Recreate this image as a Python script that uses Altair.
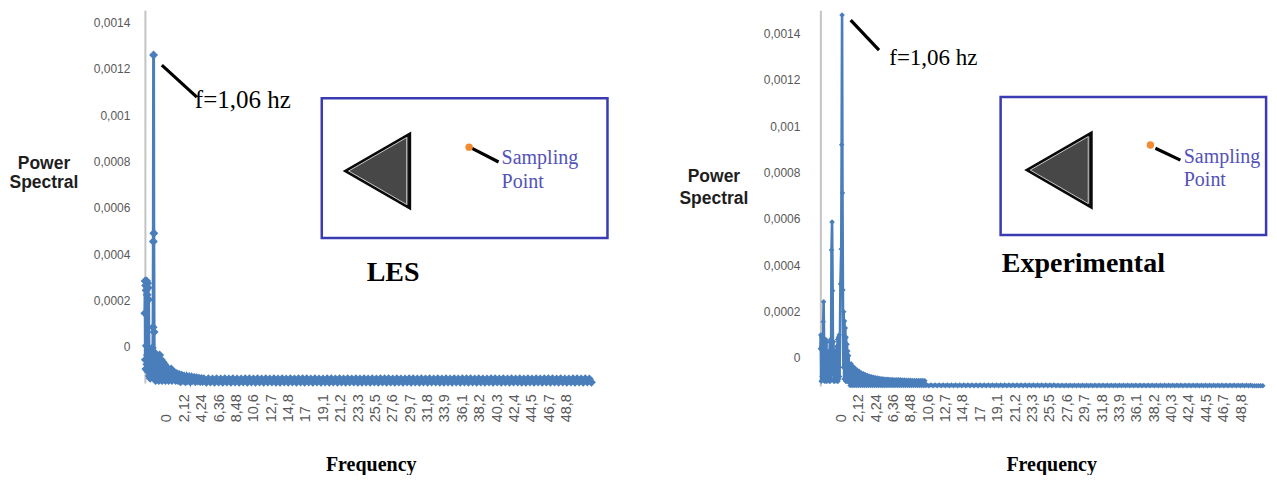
import json
import altair as alt
import pandas as pd

# ---------------- data ----------------
# LES spectrum (frequency in Hz, power spectral density)
les_freq = [
    0.00, 0.03, 0.06, 0.09, 0.12, 0.15, 0.18, 0.21, 0.24, 0.27, 0.30, 0.33, 0.36, 0.39, 0.42, 0.45,
    0.50, 0.55, 0.60, 0.65, 0.70, 0.75, 0.80, 0.85, 0.90, 0.95,
    1.00, 1.03, 1.06, 1.09, 1.12, 1.16,
    1.20, 1.30, 1.40, 1.50, 1.60, 1.70, 1.80, 1.90, 2.00, 2.10, 2.20, 2.30,
    2.40, 2.50, 2.60, 2.70, 2.80, 2.90, 3.00, 3.10, 3.20, 3.30, 3.40, 3.50,
    3.60, 3.75, 3.90, 4.05, 4.20, 4.35, 4.50, 4.65, 4.80, 4.95, 5.10, 5.25, 5.40,
    5.55, 5.70, 5.85, 6.00, 6.15, 6.30, 6.45, 6.60, 6.75, 6.90, 7.05, 7.20,
    7.5, 7.75, 8.0, 8.25, 8.5, 8.75, 9.0, 9.25,
    9.5, 9.75, 10.0, 10.25, 10.5, 10.75, 11.0, 11.25,
    11.5, 11.75, 12.0, 12.25, 12.5, 12.75, 13.0, 13.25,
    13.5, 13.75, 14.0, 14.25, 14.5, 14.75, 15.0, 15.25,
    15.5, 15.75, 16.0, 16.25, 16.5, 16.75, 17.0, 17.25,
    17.5, 17.75, 18.0, 18.25, 18.5, 18.75, 19.0, 19.25,
    19.5, 19.75, 20.0, 20.25, 20.5, 20.75, 21.0, 21.25,
    21.5, 21.75, 22.0, 22.25, 22.5, 22.75, 23.0, 23.25,
    23.5, 23.75, 24.0, 24.25, 24.5, 24.75, 25.0, 25.25,
    25.5, 25.75, 26.0, 26.25, 26.5, 26.75, 27.0, 27.25,
    27.5, 27.75, 28.0, 28.25, 28.5, 28.75, 29.0, 29.25,
    29.5, 29.75, 30.0, 30.25, 30.5, 30.75, 31.0, 31.25,
    31.5, 31.75, 32.0, 32.25, 32.5, 32.75, 33.0, 33.25,
    33.5, 33.75, 34.0, 34.25, 34.5, 34.75, 35.0, 35.25,
    35.5, 35.75, 36.0, 36.25, 36.5, 36.75, 37.0, 37.25,
    37.5, 37.75, 38.0, 38.25, 38.5, 38.75, 39.0, 39.25,
    39.5, 39.75, 40.0, 40.25, 40.5, 40.75, 41.0, 41.25,
    41.5, 41.75, 42.0, 42.25, 42.5, 42.75, 43.0, 43.25,
    43.5, 43.75, 44.0, 44.25, 44.5, 44.75, 45.0, 45.25,
    45.5, 45.75, 46.0, 46.25, 46.5, 46.75, 47.0, 47.25,
    47.5, 47.75, 48.0, 48.25, 48.5, 48.75, 49.0, 49.25,
    49.5, 49.75, 50.0, 50.25, 50.5, 50.75, 51.0, 51.25,
    51.5, 51.75, 52.0, 52.25, 52.5, 52.75, 53.0, 53.25,
    53.5, 53.75, 54.0, 54.25, 54.5,
]
les_power = [
    3.0e-4, 4.4e-4, 1.0e-4, 4.2e-4, 0.6e-4, 4.0e-4, 1.6e-4, 4.4e-4, 0.8e-4, 3.8e-4, 1.2e-4, 4.3e-4,
    0.5e-4, 4.1e-4, 1.4e-4, 3.6e-4,
    1.2e-4, 0.3e-4, 1.4e-4, 0.2e-4, 1.1e-4, 0.4e-4, 1.3e-4, 0.3e-4, 1.5e-4, 0.5e-4,
    2.4e-4, 6.1e-4, 14.14e-4, 6.45e-4, 2.2e-4, 0.4e-4,
    1.3e-4, 0.1e-4, 1.2e-4, 0.2e-4, 1.1e-4, 0.1e-4, 1.2e-4, 0.2e-4, 1.0e-4, 0.1e-4, 0.9e-4, 0.2e-4,
    0.8e-4, 0.1e-4, 0.7e-4, 0.2e-4, 0.6e-4, 0.1e-4, 0.55e-4, 0.2e-4, 0.6e-4, 0.1e-4, 0.5e-4, 0.2e-4,
    0.45e-4, 0.1e-4, 0.4e-4, 0.1e-4, 0.36e-4, 0.05e-4, 0.33e-4, 0.1e-4, 0.3e-4, 0.05e-4, 0.28e-4,
    0.1e-4, 0.26e-4, 0.05e-4, 0.25e-4, 0.1e-4, 0.23e-4, 0.06e-4, 0.22e-4, 0.08e-4, 0.2e-4,
    0.06e-4, 0.19e-4, 0.06e-4, 0.18e-4,
    3e-6, 1.8e-5, 4e-6, 1.7e-5, 3e-6, 1.8e-5, 4e-6, 1.7e-5,
    3e-6, 1.8e-5, 4e-6, 1.7e-5, 3e-6, 1.8e-5, 4e-6, 1.7e-5,
    3e-6, 1.7e-5, 4e-6, 1.8e-5, 3e-6, 1.8e-5, 4e-6, 1.7e-5,
    3e-6, 1.8e-5, 4e-6, 1.7e-5, 3e-6, 1.8e-5, 4e-6, 1.7e-5,
    4e-6, 1.8e-5, 3e-6, 1.7e-5, 3e-6, 1.8e-5, 4e-6, 1.7e-5,
    3e-6, 1.8e-5, 4e-6, 1.7e-5, 3e-6, 1.8e-5, 4e-6, 1.8e-5,
    3e-6, 1.8e-5, 4e-6, 1.7e-5, 3e-6, 1.8e-5, 4e-6, 1.7e-5,
    3e-6, 1.7e-5, 4e-6, 1.8e-5, 3e-6, 1.8e-5, 4e-6, 1.7e-5,
    3e-6, 1.8e-5, 4e-6, 1.7e-5, 3e-6, 1.8e-5, 4e-6, 1.7e-5,
    4e-6, 1.8e-5, 3e-6, 1.7e-5, 3e-6, 1.8e-5, 4e-6, 1.7e-5,
    3e-6, 1.8e-5, 4e-6, 1.7e-5, 3e-6, 1.8e-5, 4e-6, 1.8e-5,
    3e-6, 1.8e-5, 4e-6, 1.7e-5, 3e-6, 1.8e-5, 4e-6, 1.7e-5,
    3e-6, 1.7e-5, 4e-6, 1.8e-5, 3e-6, 1.8e-5, 4e-6, 1.7e-5,
    3e-6, 1.8e-5, 4e-6, 1.7e-5, 3e-6, 1.8e-5, 4e-6, 1.7e-5,
    4e-6, 1.8e-5, 3e-6, 1.7e-5, 3e-6, 1.8e-5, 4e-6, 1.7e-5,
    3e-6, 1.8e-5, 4e-6, 1.7e-5, 3e-6, 1.8e-5, 4e-6, 1.8e-5,
    3e-6, 1.8e-5, 4e-6, 1.7e-5, 3e-6, 1.8e-5, 4e-6, 1.7e-5,
    3e-6, 1.7e-5, 4e-6, 1.8e-5, 3e-6, 1.8e-5, 4e-6, 1.7e-5,
    3e-6, 1.8e-5, 4e-6, 1.7e-5, 3e-6, 1.8e-5, 4e-6, 1.7e-5,
    4e-6, 1.8e-5, 3e-6, 1.7e-5, 3e-6, 1.8e-5, 4e-6, 1.7e-5,
    3e-6, 1.8e-5, 4e-6, 1.7e-5, 3e-6, 1.8e-5, 4e-6, 1.8e-5,
    3e-6, 1.8e-5, 4e-6, 1.7e-5, 3e-6, 1.8e-5, 4e-6, 1.7e-5,
    3e-6, 1.7e-5, 4e-6, 1.8e-5, 3e-6, 1.8e-5, 4e-6, 1.7e-5,
    3e-6, 1.8e-5, 4e-6, 1.7e-5, 3e-6,
]

# Experimental spectrum
exp_freq = [
    0.00, 0.05, 0.10, 0.15, 0.20, 0.25, 0.30, 0.35, 0.40, 0.45, 0.50, 0.55, 0.60,
    0.65, 0.70, 0.75, 0.80, 0.85, 0.90, 0.95, 1.00, 1.05, 1.10, 1.15, 1.20, 1.25, 1.30,
    1.36, 1.43, 1.50,
    1.55, 1.60, 1.65, 1.70, 1.75, 1.80, 1.85, 1.90, 1.95, 2.00, 2.05, 2.10, 2.15,
    2.20, 2.25, 2.30, 2.35,
    2.45, 2.55, 2.60, 2.65, 2.70, 2.75, 2.80,
    2.85, 2.90, 2.95, 3.00, 3.05, 3.10, 3.15, 3.20, 3.25, 3.30, 3.35, 3.40, 3.45, 3.50,
    3.625, 3.75, 3.875, 4.0, 4.125, 4.25, 4.375, 4.5, 4.625, 4.75, 4.875, 5.0,
    5.125, 5.25, 5.375, 5.5, 5.625, 5.75, 5.875, 6.0, 6.125, 6.25, 6.375, 6.5,
    6.625, 6.75, 6.875, 7.0, 7.125, 7.25, 7.375, 7.5, 7.625, 7.75, 7.875, 8.0,
    8.125, 8.25, 8.375, 8.5, 8.625, 8.75, 8.875, 9.0, 9.125, 9.25, 9.375, 9.5,
    9.625, 9.75, 9.875, 10.0, 10.125, 10.25, 10.375, 10.5, 10.625, 10.75, 10.875, 11.0,
    11.125, 11.25, 11.375, 11.5, 11.625, 11.75, 11.875, 12.0, 12.125, 12.25, 12.375, 12.5,
    12.625, 12.75, 12.875,
    13.0, 13.25, 13.5, 13.75, 14.0, 14.25, 14.5, 14.75,
    15.0, 15.25, 15.5, 15.75, 16.0, 16.25, 16.5, 16.75,
    17.0, 17.25, 17.5, 17.75, 18.0, 18.25, 18.5, 18.75,
    19.0, 19.25, 19.5, 19.75, 20.0, 20.25, 20.5, 20.75,
    21.0, 21.25, 21.5, 21.75, 22.0, 22.25, 22.5, 22.75,
    23.0, 23.25, 23.5, 23.75, 24.0, 24.25, 24.5, 24.75,
    25.0, 25.25, 25.5, 25.75, 26.0, 26.25, 26.5, 26.75,
    27.0, 27.25, 27.5, 27.75, 28.0, 28.25, 28.5, 28.75,
    29.0, 29.25, 29.5, 29.75, 30.0, 30.25, 30.5, 30.75,
    31.0, 31.25, 31.5, 31.75, 32.0, 32.25, 32.5, 32.75,
    33.0, 33.25, 33.5, 33.75, 34.0, 34.25, 34.5, 34.75,
    35.0, 35.25, 35.5, 35.75, 36.0, 36.25, 36.5, 36.75,
    37.0, 37.25, 37.5, 37.75, 38.0, 38.25, 38.5, 38.75,
    39.0, 39.25, 39.5, 39.75, 40.0, 40.25, 40.5, 40.75,
    41.0, 41.25, 41.5, 41.75, 42.0, 42.25, 42.5, 42.75,
    43.0, 43.25, 43.5, 43.75, 44.0, 44.25, 44.5, 44.75,
    45.0, 45.25, 45.5, 45.75, 46.0, 46.25, 46.5, 46.75,
    47.0, 47.25, 47.5, 47.75, 48.0, 48.25, 48.5, 48.75,
    49.0, 49.25, 49.5, 49.75, 50.0, 50.25, 50.5, 50.75,
    51.0, 51.25, 51.5, 51.75, 52.0, 52.25, 52.5, 52.75,
    53.0, 53.25, 53.5, 53.75, 54.0,
]
exp_power = [
    1.6e-4, 2.2e-4, 0.2e-4, 2.1e-4, 0.4e-4, 2.2e-4, 0.3e-4, 2.77e-4, 3.63e-4, 2.0e-4, 0.2e-4, 2.0e-4, 0.3e-4,
    2.0e-4, 0.2e-4, 1.9e-4, 0.2e-4, 1.4e-4, 0.3e-4, 1.4e-4, 0.3e-4, 1.5e-4, 0.2e-4, 1.9e-4, 0.2e-4, 2.0e-4, 0.3e-4,
    5.86e-4, 7.07e-4, 4.1e-4,
    0.5e-4, 1.9e-4, 0.2e-4, 1.5e-4, 0.2e-4, 1.5e-4, 0.3e-4, 1.5e-4, 0.3e-4, 1.7e-4, 0.2e-4, 2.0e-4, 0.2e-4,
    2.1e-4, 0.3e-4, 2.2e-4, 0.4e-4,
    4.4e-4, 5.9e-4, 10.4e-4, 16.0e-4, 8.32e-4, 4.14e-4, 0.8e-4,
    3.2e-4, 0.3e-4, 2.8e-4, 0.3e-4, 2.5e-4, 0.2e-4, 2.1e-4, 0.2e-4, 1.8e-4, 0.2e-4, 1.5e-4, 0.2e-4, 1.3e-4, 0.2e-4,
    2e-6, 9.6e-5, 2e-6, 8.4e-5, 2e-6, 7.5e-5, 2e-6, 6.8e-5, 2e-6, 6.2e-5, 2e-6, 5.6e-5,
    2e-6, 5.2e-5, 2e-6, 4.8e-5, 2e-6, 4.5e-5, 2e-6, 4.2e-5, 2e-6, 3.9e-5, 2e-6, 3.7e-5,
    2e-6, 3.5e-5, 2e-6, 3.4e-5, 2e-6, 3.2e-5, 2e-6, 3.1e-5, 2e-6, 3.0e-5, 2e-6, 2.9e-5,
    2e-6, 2.9e-5, 2e-6, 2.8e-5, 2e-6, 2.8e-5, 2e-6, 2.7e-5, 2e-6, 2.7e-5, 2e-6, 2.6e-5,
    2e-6, 2.6e-5, 2e-6, 2.5e-5, 2e-6, 2.5e-5, 2e-6, 2.4e-5, 2e-6, 2.4e-5, 2e-6, 2.4e-5,
    2e-6, 2.3e-5, 2e-6, 2.3e-5, 2e-6, 2.3e-5, 2e-6, 2.3e-5, 2e-6, 2.3e-5, 2e-6, 2.3e-5,
    2e-6, 2.2e-5, 2e-6,
    4e-6, 1e-6, 4e-6, 1e-6, 4e-6, 1e-6, 4e-6, 1e-6,
    4e-6, 1e-6, 4e-6, 1e-6, 4e-6, 1e-6, 4e-6, 1e-6,
    4e-6, 1e-6, 4e-6, 1e-6, 4e-6, 1e-6, 4e-6, 1e-6,
    4e-6, 1e-6, 4e-6, 1e-6, 4e-6, 1e-6, 4e-6, 1e-6,
    4e-6, 1e-6, 4e-6, 1e-6, 4e-6, 1e-6, 4e-6, 1e-6,
    4e-6, 1e-6, 4e-6, 1e-6, 4e-6, 1e-6, 4e-6, 1e-6,
    4e-6, 1e-6, 4e-6, 1e-6, 4e-6, 1e-6, 4e-6, 1e-6,
    4e-6, 1e-6, 4e-6, 1e-6, 4e-6, 1e-6, 4e-6, 1e-6,
    3e-6, 1e-6, 3e-6, 1e-6, 3e-6, 1e-6, 3e-6, 1e-6,
    3e-6, 1e-6, 3e-6, 1e-6, 3e-6, 1e-6, 3e-6, 1e-6,
    3e-6, 1e-6, 3e-6, 1e-6, 3e-6, 1e-6, 3e-6, 1e-6,
    3e-6, 1e-6, 3e-6, 1e-6, 3e-6, 1e-6, 3e-6, 1e-6,
    3e-6, 1e-6, 3e-6, 1e-6, 3e-6, 1e-6, 3e-6, 1e-6,
    3e-6, 1e-6, 3e-6, 1e-6, 3e-6, 1e-6, 3e-6, 1e-6,
    3e-6, 1e-6, 3e-6, 1e-6, 3e-6, 1e-6, 3e-6, 1e-6,
    3e-6, 1e-6, 3e-6, 1e-6, 3e-6, 1e-6, 3e-6, 1e-6,
    3e-6, 1e-6, 3e-6, 1e-6, 3e-6, 1e-6, 3e-6, 1e-6,
    3e-6, 1e-6, 3e-6, 1e-6, 3e-6, 1e-6, 3e-6, 1e-6,
    3e-6, 1e-6, 3e-6, 1e-6, 3e-6, 1e-6, 3e-6, 1e-6,
    3e-6, 1e-6, 3e-6, 1e-6, 3e-6, 1e-6, 3e-6, 1e-6,
    1e-6, 5e-7, 1e-6, 5e-7, 1e-6,
]

# axis ticks and labels
x_tick_values = [0, 2.121, 4.242, 6.363, 8.484, 10.605, 12.726, 14.847, 16.968, 19.089,
                 21.21, 23.331, 25.452, 27.573, 29.694, 31.815, 33.936, 36.057, 38.178,
                 40.299, 42.42, 44.541, 46.662, 48.783]
x_tick_labels = ["0", "2,12", "4,24", "6,36", "8,48", "10,6", "12,7", "14,8", "17", "19,1",
                 "21,2", "23,3", "25,5", "27,6", "29,7", "31,8", "33,9", "36,1", "38,2",
                 "40,3", "42,4", "44,5", "46,7", "48,8"]
y_tick_values = [0, 0.0002, 0.0004, 0.0006, 0.0008, 0.001, 0.0012, 0.0014]
y_tick_labels = ["0", "0,0002", "0,0004", "0,0006", "0,0008", "0,001", "0,0012", "0,0014"]

peak_text = "f=1,06 hz"
panel_names = ["LES", "Experimental"]
sampling_lines = ["Sampling", "Point"]
x_title = "Frequency"
y_title = ["Power", "Spectral"]

# ---------------- styles / layout ----------------
BLUE = "#4A7EBB"
BOX_BLUE = "#3a3ab2"
TEXT_BLUE = "#5252b8"
ORANGE = "#f28a30"
SANS = "Liberation Sans"
SERIF = "Liberation Serif"

x_label_expr = f"{json.dumps(x_tick_labels)}[indexof({json.dumps(x_tick_values)}, datum.value)]"
y_label_expr = f"{json.dumps(y_tick_labels)}[indexof({json.dumps(y_tick_values)}, datum.value)]"

left_cfg = dict(w=470, h=373, xmax=57.32, ymax=0.0016078, lw=3, ms=81,
                ylab_off=-36, ylab_pad=15, xlab_pad=39, xlab_off=22,
                ytx=-101.5, yty=158, ylh=19, xtx=226, xty=88, peak_fs=25)
right_cfg = dict(w=447, h=376, xmax=54.51, ymax=0.0016207, lw=2.6, ms=30,
                 ylab_off=-28, ylab_pad=20.5, xlab_pad=36, xlab_off=21,
                 ytx=-107, yty=171, ylh=22, xtx=231, xty=85, peak_fs=23)

# annotation anchor positions (in data coordinates of each panel)
left_ann = dict(leader=(2.07, 0.001371, 6.34, 0.001233), peak_txt=(6.1, 0.001185),
                box=(21.59, 0.001228, 56.46, 0.000625), tri=(28.41, 0.000914),
                dot=(39.57, 0.001017), dot_leader=(39.88, 0.001013, 43.17, 0.000953),
                samp=(43.54, 0.000944, 0.000841), name=(30.3, 0.00044))
right_ann = dict(leader=(3.70, 0.001578, 7.16, 0.001448), peak_txt=(8.41, 0.001384),
                 box=(22.0, 0.001246, 54.4, 0.000651), tri=(29.15, 0.000931),
                 dot=(40.28, 0.001039), dot_leader=(40.89, 0.001025, 43.94, 0.000974),
                 samp=(44.35, 0.00096, 0.000862), name=(32.1, 0.000491))


def make_panel(freq, power, cfg, ann, name):
    xs = alt.Scale(domain=[0, cfg["xmax"]], nice=False, zero=False)
    ys = alt.Scale(domain=[0, cfg["ymax"]], nice=False, zero=False)
    xax = alt.Axis(values=x_tick_values, labelExpr=x_label_expr, labelAngle=270,
                   labelAlign="left", labelBaseline="middle", labelPadding=cfg["xlab_pad"],
                   labelOffset=cfg["xlab_off"], labelFont=SANS, labelFontSize=14.5,
                   labelColor="#595959", labelOverlap=False, labelFlush=False, domain=False,
                   ticks=False, tickSize=0, grid=False, title=x_title, titleFont=SERIF,
                   titleFontSize=20, titleFontWeight="bold", titleColor="#000000",
                   titleX=cfg["xtx"], titleY=cfg["xty"], titleAlign="center",
                   titleBaseline="alphabetic")
    yax = alt.Axis(values=y_tick_values, labelExpr=y_label_expr, labelPadding=cfg["ylab_pad"],
                   labelOffset=cfg["ylab_off"], labelFont=SANS, labelFontSize=12,
                   labelColor="#595959", labelAlign="right", labelBaseline="middle",
                   labelOverlap=False, labelFlush=False, domain=True, domainColor="#c4c4c4",
                   domainWidth=2, ticks=False, tickSize=0, grid=False, title=y_title,
                   titleAngle=0, titleX=cfg["ytx"], titleY=cfg["yty"], titleAlign="center",
                   titleBaseline="alphabetic", titleFont=SANS, titleFontSize=17.5,
                   titleFontWeight="bold", titleColor="#1e1e1e", titleLineHeight=cfg["ylh"])

    def X(field):
        return alt.X(field, type="quantitative", scale=xs, axis=xax)

    def Y(field):
        return alt.Y(field, type="quantitative", scale=ys, axis=yax)

    df = pd.DataFrame({"f": freq, "v": power})
    base = alt.Chart(df).encode(x=X("f"), y=Y("v"))
    line = base.mark_line(color=BLUE, strokeWidth=cfg["lw"])
    pts = base.mark_point(shape="diamond", filled=True, size=cfg["ms"], color=BLUE, opacity=1)

    bx = ann["box"]
    box_df = pd.DataFrame({"f": [bx[0]], "v": [bx[1]], "f2": [bx[2]], "v2": [bx[3]]})
    box = alt.Chart(box_df).mark_rect(fillOpacity=0, stroke=BOX_BLUE, strokeWidth=2.5).encode(
        x=X("f"), x2=alt.X2("f2"), y=Y("v"), y2=alt.Y2("v2"))

    tri_df = pd.DataFrame({"f": [ann["tri"][0]], "v": [ann["tri"][1]]})
    tri_outer = alt.Chart(tri_df).mark_point(shape="triangle-left", size=5476, filled=True,
                                             fill="#474747", stroke="#0a0a0a", strokeWidth=3,
                                             opacity=1).encode(x=X("f"), y=Y("v"))
    tri_inner = alt.Chart(tri_df).mark_point(shape="triangle-left", size=4500, filled=False,
                                             stroke="#c8c8c8", strokeWidth=1,
                                             opacity=1).encode(x=X("f"), y=Y("v"))

    ld = ann["leader"]
    dl = ann["dot_leader"]
    rule_df = pd.DataFrame({"f": [ld[0], dl[0]], "v": [ld[1], dl[1]],
                            "f2": [ld[2], dl[2]], "v2": [ld[3], dl[3]]})
    rules = alt.Chart(rule_df).mark_rule(color="#000000", strokeWidth=3.2).encode(
        x=X("f"), x2=alt.X2("f2"), y=Y("v"), y2=alt.Y2("v2"))

    dot_df = pd.DataFrame({"f": [ann["dot"][0]], "v": [ann["dot"][1]]})
    dot = alt.Chart(dot_df).mark_point(shape="circle", filled=True, size=55, color=ORANGE,
                                       opacity=1).encode(x=X("f"), y=Y("v"))

    pk_df = pd.DataFrame({"f": [ann["peak_txt"][0]], "v": [ann["peak_txt"][1]], "t": [peak_text]})
    pk = alt.Chart(pk_df).mark_text(align="left", baseline="alphabetic", font=SERIF,
                                    fontSize=cfg["peak_fs"], color="#000000").encode(
        x=X("f"), y=Y("v"), text="t:N")

    sp = ann["samp"]
    samp_df = pd.DataFrame({"f": [sp[0], sp[0]], "v": [sp[1], sp[2]], "t": sampling_lines})
    samp = alt.Chart(samp_df).mark_text(align="left", baseline="alphabetic", font=SERIF,
                                        fontSize=20, color=TEXT_BLUE).encode(
        x=X("f"), y=Y("v"), text="t:N")

    nm_df = pd.DataFrame({"f": [ann["name"][0]], "v": [ann["name"][1]], "t": [name]})
    nm = alt.Chart(nm_df).mark_text(align="center", baseline="alphabetic", font=SERIF,
                                    fontSize=28, fontWeight="bold", color="#000000").encode(
        x=X("f"), y=Y("v"), text="t:N")

    return alt.layer(line, pts, box, tri_outer, tri_inner, rules, dot, pk, samp, nm).properties(
        width=cfg["w"], height=cfg["h"])


left = make_panel(les_freq, les_power, left_cfg, left_ann, panel_names[0])
right = make_panel(exp_freq, exp_power, right_cfg, right_ann, panel_names[1])

chart = alt.hconcat(left, right, spacing=64).properties(
    padding={"left": 0, "top": 1, "right": 0, "bottom": 0},
    background="white",
).configure_view(stroke=None)

chart.save("out.html", embed_options={"renderer": "svg", "actions": False})
